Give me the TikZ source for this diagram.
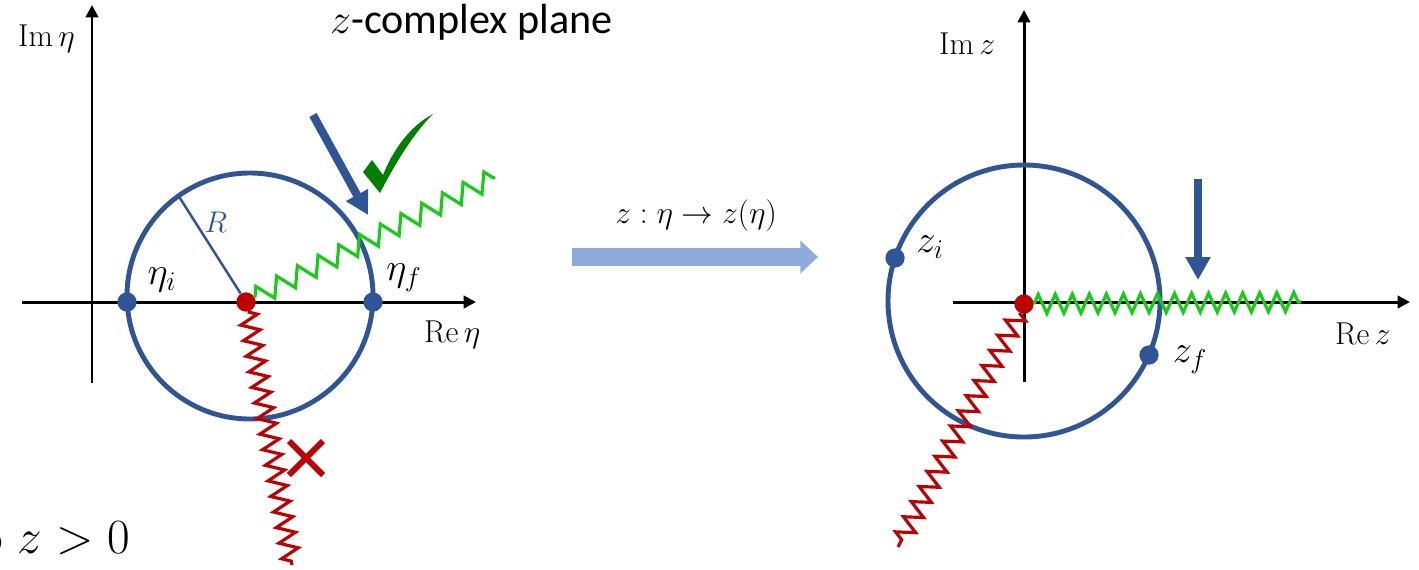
\RequirePackage{fix-cm}
\documentclass[tikz,border=0pt]{standalone}
\usepackage{fontspec}
\newfontfamily\slidefont{Carlito}
\usetikzlibrary{arrows.meta, decorations.pathmorphing, positioning}
\definecolor{ringblue}{RGB}{47,85,151}
\definecolor{cutred}{RGB}{192,0,0}
\definecolor{cutgreen}{RGB}{20,205,20}
\definecolor{tickgreen}{RGB}{0,128,0}
\definecolor{mapblue}{RGB}{143,170,220}
\tikzset{
    axisline/.style={line width=1.7pt, -{Triangle[length=7pt,width=7pt]}},
    ring/.style={draw=ringblue, line width=2.8pt},
    bluedot/.style={circle, fill=ringblue, inner sep=0pt, minimum size=11pt},
    reddot/.style={circle, fill=cutred, inner sep=0pt, minimum size=11pt},
    goodcut/.style={draw=cutgreen, line width=1.8pt, decorate, decoration={zigzag, segment length=#1, amplitude=5.4pt}},
    badcut/.style={draw=cutred, line width=1.8pt, decorate, decoration={zigzag, segment length=#1, amplitude=5.2pt}},
    hint/.style={draw=ringblue, line width=4.7pt, -{Triangle[length=13pt,width=13.5pt]}},
    maparrow/.style={draw=mapblue, line width=10pt, -{Triangle[length=10pt,width=18pt]}},
    cross/.style={draw=cutred, line width=3.4pt},
    axlbl/.style={font=\fontsize{18}{21}\selectfont},
    ptlbl/.style={font=\fontsize{22}{25}\selectfont}
}
\begin{document}
\begin{tikzpicture}[x=0.02cm, y=-0.02cm]
    \useasboundingbox (0,0) rectangle (1419,569);
    \clip (0,0) rectangle (1419,569);

    % eta plane
    \coordinate (lc) at (250,296);
    \draw [axisline] (22,302) coordinate (lx0) -- (476,302) coordinate (lx1);
    \draw [axisline] (92,383) coordinate (ly0) -- (92,5) coordinate (ly1);
    \node (imeta) [axlbl, anchor=base west] at (12,46) {$\mathrm{Im}\,\eta$};
    \node (reeta) [axlbl, anchor=base west] at (418,342) {$\mathrm{Re}\,\eta$};
    \draw [ring] (lc) circle [radius=123];
    \node (etai) [bluedot] at (127,302) {};
    \node (etaf) [bluedot] at (373,302) {};
    \node (lbr) [reddot] at (246,302) {};
    \coordinate (rtop) at (178,195);
    \draw [ringblue, line width=1.4pt] (lbr) -- (rtop);
    \node (rlbl) [font=\fontsize{17}{20}\selectfont, text=ringblue] at (216,222) {$R$};
    \node (etailbl) [ptlbl] at (162,280) {$\eta_i$};
    \node (etaflbl) [ptlbl] at (404,278) {$\eta_f$};
    \coordinate (lgend) at (495,177);
    \coordinate (lrend) at (292,565);
    \draw [goodcut=13.2pt] (lbr) -- (lgend);
    \draw [badcut=9pt] (lbr) -- (lrend);
    \draw [cross] (289,441) -- (323,475) (289,475) -- (323,441);
    \coordinate (lh0) at (313,115);
    \coordinate (lh1) at (368,215);
    \draw [hint] (lh0) -- (lh1);
    \fill [tickgreen] (363,172) -- (372,160) -- (383,175)
        .. controls (393,150) and (410,126) .. (433,114)
        .. controls (415,132) and (397,160) .. (380,193) -- cycle;

    \node (title) [anchor=base west, font=\slidefont\fontsize{24}{28}\selectfont] at (324,33) {$z$-complex plane};
    \node (cond) [anchor=base east, font=\fontsize{28}{32}\selectfont] at (136,553) {o $z>0$};

    % the map
    \coordinate (m0) at (572,257);
    \coordinate (m1) at (818,257);
    \draw [maparrow] (m0) -- (m1);
    \node (maplbl) [anchor=base, font=\fontsize{18}{21}\selectfont] at (696,223) {$z:\eta\to z(\eta)$};

    % z plane
    \coordinate (rc) at (1024,301);
    \draw [axisline] (953,302) coordinate (rx0) -- (1410,302) coordinate (rx1);
    \draw [axisline] (1024,382) coordinate (ry0) -- (1024,10) coordinate (ry1);
    \node (imz) [axlbl, anchor=base west] at (933,54) {$\mathrm{Im}\,z$};
    \node (rez) [axlbl, anchor=base west] at (1329,344) {$\mathrm{Re}\,z$};
    \draw [ring] (rc) circle [radius=136];
    \node (rbr) [reddot] at (1024,304) {};
    \coordinate (rgend) at (1301,302);
    \coordinate (rrend) at (898,547);
    \draw [goodcut=9.7pt] (rbr) -- (rgend);
    \draw [badcut=9.7pt] (rbr) -- (rrend);
    \node (zi) [bluedot] at (895,258) {};
    \node (zf) [bluedot] at (1149,355) {};
    \node (zilbl) [ptlbl] at (930,247) {$z_i$};
    \node (zflbl) [ptlbl] at (1190,360) {$z_f$};
    \coordinate (rh0) at (1198,179);
    \coordinate (rh1) at (1198,280);
    \draw [hint] (rh0) -- (rh1);
\end{tikzpicture}
\end{document}
